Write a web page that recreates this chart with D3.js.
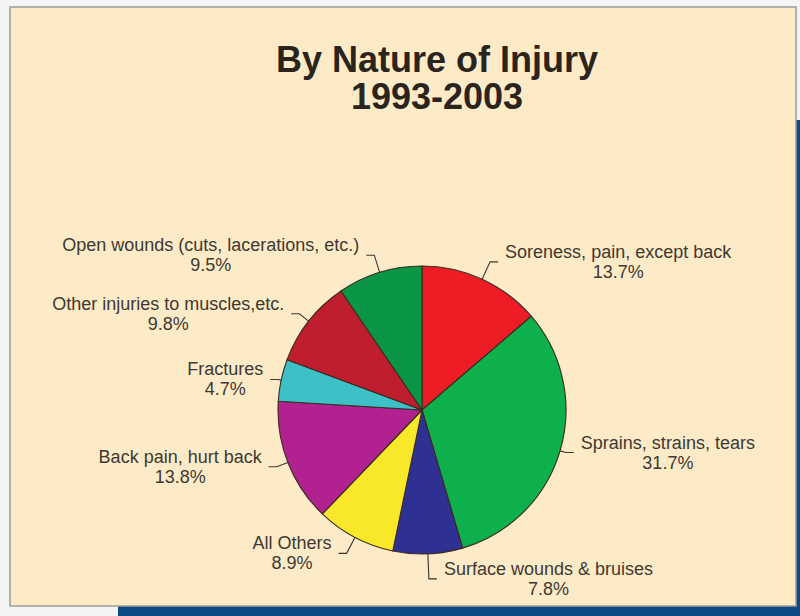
<!DOCTYPE html>
<html>
<head>
<meta charset="utf-8">
<script src="https://cdn.jsdelivr.net/npm/d3@7"></script>
<style>
  html, body { margin: 0; padding: 0; background: #f3f5f5; }
  svg { display: block; }
</style>
</head>
<body>
<svg id="chart" width="800" height="616"></svg>
<script>
// ---- data ----
const categories = [
  "Soreness, pain, except back",
  "Sprains, strains, tears",
  "Surface wounds & bruises",
  "All Others",
  "Back pain, hurt back",
  "Fractures",
  "Other injuries to muscles,etc.",
  "Open wounds (cuts, lacerations, etc.)"
];
const values = [13.7, 31.7, 7.8, 8.9, 13.8, 4.7, 9.8, 9.5];
const colors = ["#ee1d25", "#0db04b", "#2e3192", "#f9e82a", "#b1218f", "#3dc0c6", "#be1e2d", "#0a9446"];
const titleLines = ["By Nature of Injury", "1993-2003"];

// ---- layout (not data) ----
const leaderLen = [19, 6, 25, 18, 12, 3, 12, 18];
const W = 800, H = 616;
const cx = 422, cy = 410, R = 144;

const svg = d3.select("#chart");

// shadow panel
svg.append("rect").attr("x", 118).attr("y", 120).attr("width", 700).attr("height", 520)
  .attr("fill", "#0c4a86");
// main panel
svg.append("rect").attr("x", 10).attr("y", 7).attr("width", 786).attr("height", 599)
  .attr("fill", "#fdebc7").attr("stroke", "#9c9c98").attr("stroke-width", 1.5);

// title
const title = svg.append("text").attr("text-anchor", "middle")
  .attr("font-family", "'Liberation Sans', Arial, sans-serif")
  .attr("font-weight", "bold").attr("font-size", 36).attr("fill", "#2a241d");
title.selectAll("tspan").data(titleLines).join("tspan")
  .attr("x", 437).attr("y", (d, i) => 72 + i * 37).text(d => d);

// pie
const data = categories.map((c, i) => ({ name: c, value: values[i], color: colors[i], len: leaderLen[i] }));
const pie = d3.pie().value(d => d.value).sort(null).startAngle(0).endAngle(2 * Math.PI);
const arcs = pie(data);
const arc = d3.arc().innerRadius(0).outerRadius(R);

const g = svg.append("g").attr("transform", `translate(${cx},${cy})`);
g.selectAll("path").data(arcs).join("path")
  .attr("d", arc)
  .attr("fill", d => d.data.color)
  .attr("stroke", "#3a2a22").attr("stroke-width", 1.1).attr("stroke-linejoin", "round");

// leaders and labels
const font = "'Liberation Sans', Arial, sans-serif";
arcs.forEach(a => {
  const mid = (a.startAngle + a.endAngle) / 2;
  const sx = Math.sin(mid), sy = -Math.cos(mid);
  const dir = sx >= 0 ? 1 : -1;
  const p0 = [sx * R, sy * R];
  const p1 = [sx * (R + a.data.len), sy * (R + a.data.len)];
  const p2 = [p1[0] + dir * 8, p1[1]];
  g.append("path")
    .attr("d", d3.line()([p0, p1, p2]))
    .attr("fill", "none").attr("stroke", "#3a352e").attr("stroke-width", 1.1);

  const lbl = g.append("text").attr("text-anchor", "middle")
    .attr("font-family", font).attr("font-size", 18).attr("fill", "#3d3932");
  const t1 = lbl.append("tspan").attr("x", 0).attr("y", 0).text(a.data.name);
  lbl.append("tspan").attr("x", 0).attr("y", 20).text(a.data.value.toFixed(1) + "%");
  const w = t1.node().getComputedTextLength();
  const lx = p2[0] + dir * (7 + w / 2);
  const ly = p2[1] - 4;
  lbl.attr("transform", `translate(${lx},${ly})`);
});
</script>
</body>
</html>
